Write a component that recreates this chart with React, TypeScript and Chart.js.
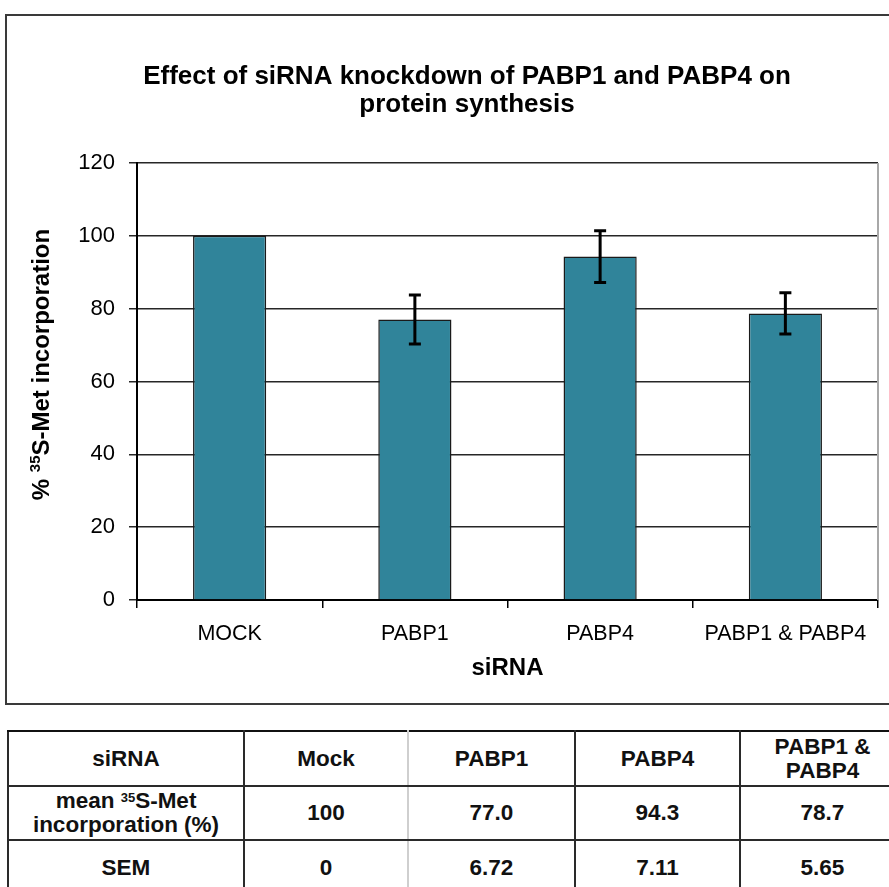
import React, { useEffect, useRef } from "react";
import { Chart, registerables } from "chart.js";

Chart.register(...registerables);

const categories = ["MOCK", "PABP1", "PABP4", "PABP1 & PABP4"];
const meanValues = [100, 77.0, 94.3, 78.7];
const semValues = [0, 6.72, 7.11, 5.65];
const yMin = 0;
const yMax = 120;
const yStep = 20;

const titleLines = ["Effect of siRNA knockdown of PABP1 and PABP4 on", "protein synthesis"];
const xTitle = "siRNA";

const tableHeaders = ["siRNA", "Mock", "PABP1", "PABP4", "PABP1 & PABP4"];
const meanLabels = ["100", "77.0", "94.3", "78.7"];
const semLabels = ["0", "6.72", "7.11", "5.65"];

const FONT = "'Liberation Sans', Arial, Helvetica, sans-serif";
const BAR_COLOR = "#30849a";

const errorBarPlugin = {
  id: "errorBars",
  afterDatasetsDraw(chart: any) {
    const meta = chart.getDatasetMeta(0);
    const yScale = chart.scales.y;
    const ctx = chart.ctx;
    ctx.save();
    ctx.strokeStyle = "#000";
    ctx.lineWidth = 3;
    ctx.lineCap = "butt";
    meta.data.forEach((bar: any, i: number) => {
      const sem = semValues[i];
      if (!sem) return;
      const x = bar.x;
      const top = yScale.getPixelForValue(meanValues[i] + sem);
      const bot = yScale.getPixelForValue(meanValues[i] - sem);
      ctx.beginPath();
      ctx.moveTo(x, top);
      ctx.lineTo(x, bot);
      ctx.moveTo(x - 6, top);
      ctx.lineTo(x + 6, top);
      ctx.moveTo(x - 6, bot);
      ctx.lineTo(x + 6, bot);
      ctx.stroke();
    });
    ctx.restore();
  },
};

const framePlugin = {
  id: "frameRight",
  beforeDatasetsDraw(chart: any) {
    const { ctx, chartArea } = chart;
    ctx.save();
    ctx.strokeStyle = "#a8a8a8";
    ctx.lineWidth = 2;
    ctx.beginPath();
    ctx.moveTo(chartArea.right, chartArea.top);
    ctx.lineTo(chartArea.right, chartArea.bottom);
    ctx.stroke();
    ctx.restore();
  },
};

const yTitlePlugin = {
  id: "yTitle",
  afterDraw(chart: any) {
    const { ctx, chartArea } = chart;
    const cx = 35;
    const cy = (chartArea.top + chartArea.bottom) / 2 - 17;
    const big = `bold 24px ${FONT}`;
    const small = `bold 15px ${FONT}`;
    const p1 = "% ";
    const p2 = "35";
    const p3 = "S-Met incorporation";
    ctx.save();
    ctx.translate(cx, cy);
    ctx.rotate(-Math.PI / 2);
    ctx.fillStyle = "#000";
    ctx.textBaseline = "middle";
    ctx.textAlign = "left";
    ctx.font = big;
    const w1 = ctx.measureText(p1).width;
    const w3 = ctx.measureText(p3).width;
    ctx.font = small;
    const w2 = ctx.measureText(p2).width;
    let x = -(w1 + w2 + w3) / 2;
    ctx.font = big;
    ctx.fillText(p1, x, 0);
    x += w1;
    ctx.font = small;
    ctx.fillText(p2, x, -6);
    x += w2;
    ctx.font = big;
    ctx.fillText(p3, x, 0);
    ctx.restore();
  },
};

function BarChart() {
  const ref = useRef<HTMLCanvasElement | null>(null);
  useEffect(() => {
    if (!ref.current) return;
    const chart = new Chart(ref.current, {
      type: "bar",
      data: {
        labels: categories,
        datasets: [
          {
            data: meanValues,
            backgroundColor: BAR_COLOR,
            borderColor: "#1a1a1a",
            borderWidth: 1.5,
            barPercentage: 0.395,
            categoryPercentage: 1,
            yAxisID: "y",
          },
        ],
      },
      options: {
        animation: false,
        responsive: false,
        devicePixelRatio: 1,
        layout: { padding: 0 },
        plugins: {
          legend: { display: false },
          tooltip: { enabled: false },
          title: {
            display: true,
            text: titleLines,
            color: "#000",
            font: { family: FONT, size: 26, weight: "bold", lineHeight: 28 / 26 },
            padding: { top: 47, bottom: 44 },
          },
        },
        scales: {
          x: {
            grid: {
              display: true,
              drawOnChartArea: false,
              drawTicks: true,
              tickLength: 8,
              offset: true,
              color: "#000",
              lineWidth: 1.5,
            },
            border: { display: true, color: "#000", width: 2 },
            ticks: {
              color: "#000",
              font: { family: FONT, size: 21.5 },
              padding: 13,
              maxRotation: 0,
              autoSkip: false,
            },
            title: {
              display: true,
              text: xTitle,
              color: "#000",
              font: { family: FONT, size: 24, weight: "bold" },
              padding: { top: 0, bottom: 20 },
            },
            afterFit: (scale: any) => {
              scale.height = 103;
            },
          },
          y: {
            min: yMin,
            max: yMax,
            grid: {
              color: "#262626",
              lineWidth: 1.5,
              tickLength: 8,
              drawTicks: true,
            },
            border: { display: true, color: "#000", width: 2 },
            ticks: {
              stepSize: yStep,
              color: "#000",
              font: { family: FONT, size: 22 },
              padding: 14,
            },
            afterFit: (scale: any) => {
              scale.width = 130;
            },
          },
          yRight: {
            position: "right",
            display: true,
            min: yMin,
            max: yMax,
            grid: { display: false },
            border: { display: false },
            ticks: { display: false },
            afterFit: (scale: any) => {
              scale.width = 49;
            },
          },
        },
      },
      plugins: [framePlugin, errorBarPlugin, yTitlePlugin],
    } as any);
    return () => chart.destroy();
  }, []);
  return <canvas ref={ref} width={920} height={687} style={{ display: "block" }} />;
}

const cellBase: React.CSSProperties = {
  border: "2px solid #2a2a2a",
  textAlign: "center",
  verticalAlign: "middle",
  padding: "0 4px",
};

function DataTable() {
  const colWidths = [236, 164, 167, 165, 165];
  const lightBorder = "2px solid #cfcfcf";
  const cell = (i: number): React.CSSProperties => {
    const s: React.CSSProperties = { ...cellBase };
    if (i === 1) s.borderRight = lightBorder;
    if (i === 2) s.borderLeft = lightBorder;
    return s;
  };
  return (
    <table
      style={{
        position: "absolute",
        left: 7,
        top: 730,
        borderCollapse: "collapse",
        tableLayout: "fixed",
        width: colWidths.reduce((a, b) => a + b, 0),
        fontFamily: FONT,
        fontWeight: "bold",
        fontSize: 22.5,
        lineHeight: "24px",
        color: "#111",
      }}
    >
      <colgroup>
        {colWidths.map((w, i) => (
          <col key={i} style={{ width: w }} />
        ))}
      </colgroup>
      <tbody>
        <tr style={{ height: 55 }}>
          {tableHeaders.map((h, i) => (
            <td key={i} style={{ ...cell(i), borderTop: "2.5px solid #111" }}>
              {h}
            </td>
          ))}
        </tr>
        <tr style={{ height: 54 }}>
          <td style={cell(0)}>
            mean <sup style={{ fontSize: 13, verticalAlign: "6px", lineHeight: 0 }}>35</sup>S-Met incorporation (%)
          </td>
          {meanLabels.map((v, i) => (
            <td key={i} style={cell(i + 1)}>
              {v}
            </td>
          ))}
        </tr>
        <tr style={{ height: 55 }}>
          <td style={cell(0)}>SEM</td>
          {semLabels.map((v, i) => (
            <td key={i} style={cell(i + 1)}>
              {v}
            </td>
          ))}
        </tr>
      </tbody>
    </table>
  );
}

export default function App() {
  return (
    <div
      style={{
        position: "absolute",
        left: 0,
        top: 0,
        width: 889,
        height: 887,
        overflow: "hidden",
        background: "#fff",
      }}
    >
      <div
        style={{
          position: "absolute",
          left: 5,
          top: 14,
          width: 924,
          height: 691,
          boxSizing: "border-box",
          border: "2px solid #3a3a3a",
          background: "#fff",
        }}
      >
        <BarChart />
      </div>
      <DataTable />
    </div>
  );
}
